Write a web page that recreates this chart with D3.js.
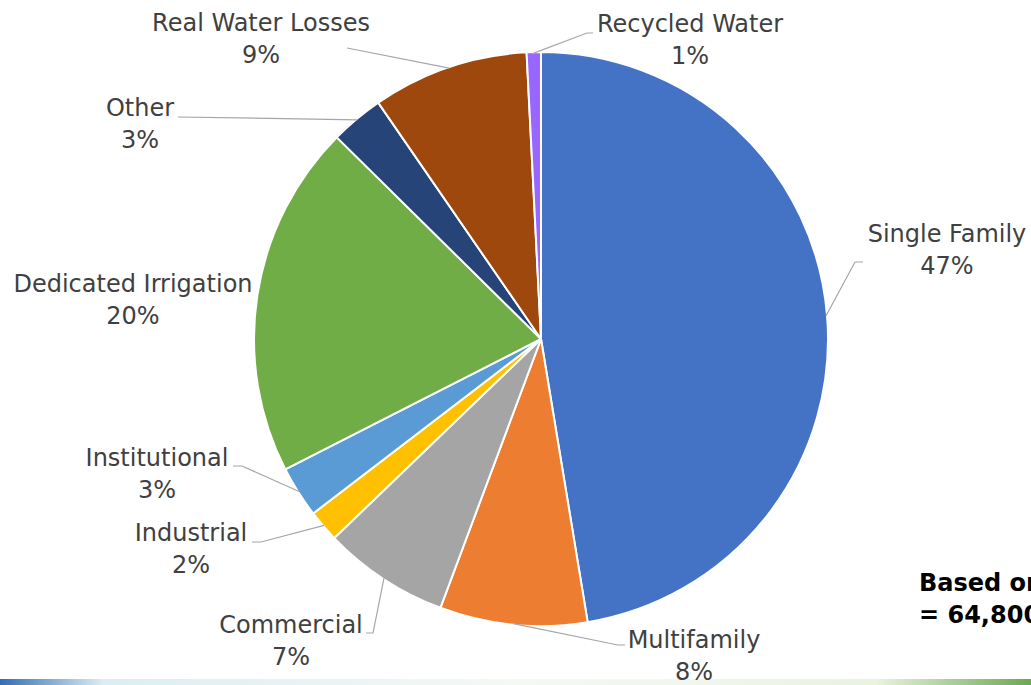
<!DOCTYPE html>
<html><head><meta charset="utf-8">
<script src="https://cdn.jsdelivr.net/npm/d3@7"></script>
<style>
html,body{margin:0;padding:0;background:#fff;}
svg text{font-family:"DejaVu Sans",sans-serif;}
</style></head>
<body>
<svg id="c" width="1031" height="685"></svg>
<script>
const categories = ["Single Family","Multifamily","Commercial","Industrial","Institutional","Dedicated Irrigation","Other","Real Water Losses","Recycled Water"];
const values = [47.4, 8.3, 7.1, 1.8, 2.9, 19.9, 3.0, 8.8, 0.8];
const colors = ["#4472C4","#ED7D31","#A5A5A5","#FFC000","#5B9BD5","#70AD47","#264478","#9E480E","#9966FF"];
const labelPos = [[947,242],[694,648],[291,633],[191,541],[157,466],[133,292],[140,116],[261,31],[690,32]];
const leaderStart = [[863,262],[625,645],[366,633],[252,542],[233,466],null,[178,117],[347,48],[593,33]];
const leaderElbow = [[855,262],[618,645],[373,633],[261,542],[242,466],null,[178,117],[347,48],[587,33]];
const note = ["Based on","= 64,800"];

const svg = d3.select("#c");
const cx = 541, cy = 339, R = 287;

const defs = svg.append("defs");
const lg = defs.append("linearGradient").attr("id","bg").attr("x1","0").attr("x2","1");
lg.append("stop").attr("offset","0").attr("stop-color","#2f6fb5");
lg.append("stop").attr("offset","0.1").attr("stop-color","#dcedf3");
lg.append("stop").attr("offset","0.5").attr("stop-color","#f5f9f5");
lg.append("stop").attr("offset","0.85").attr("stop-color","#e9f3e0");
lg.append("stop").attr("offset","1").attr("stop-color","#6aa84f");
svg.append("rect").attr("x",0).attr("y",679).attr("width",1031).attr("height",6).attr("fill","url(#bg)");

const pie = d3.pie().sort(null).value(d=>d)(values);
const arc = d3.arc().innerRadius(0).outerRadius(R);
const g = svg.append("g").attr("transform",`translate(${cx},${cy})`);
g.selectAll("path").data(pie).join("path")
  .attr("d",arc).attr("fill",(d,i)=>colors[i])
  .attr("stroke","#fff").attr("stroke-width",2).attr("stroke-linejoin","round");

const outer = d3.arc().innerRadius(R-1).outerRadius(R-1);
pie.forEach((d,i)=>{
  if(!leaderStart[i]) return;
  const c = outer.centroid(d);
  const p = [leaderStart[i], leaderElbow[i], [cx+c[0], cy+c[1]]];
  svg.append("polyline").attr("points",p.map(q=>q.join(",")).join(" "))
    .attr("fill","none").attr("stroke","#A6A6A6").attr("stroke-width",1.2);
});

const fmt = v => Math.round(v) + "%";
categories.forEach((name,i)=>{
  const [x,y] = labelPos[i];
  const t = svg.append("text").attr("x",x).attr("y",y).attr("text-anchor","middle")
    .attr("fill","#404040").attr("font-size",24);
  t.append("tspan").attr("x",x).text(name);
  t.append("tspan").attr("x",x).attr("dy",32).text(fmt(values[i]));
});

const nt = svg.append("text").attr("x",919).attr("y",591).attr("font-size",24)
  .attr("font-weight","bold").attr("fill","#000");
nt.append("tspan").attr("x",919).text(note[0]);
nt.append("tspan").attr("x",919).attr("dy",32).text(note[1]);
</script>
</body></html>
